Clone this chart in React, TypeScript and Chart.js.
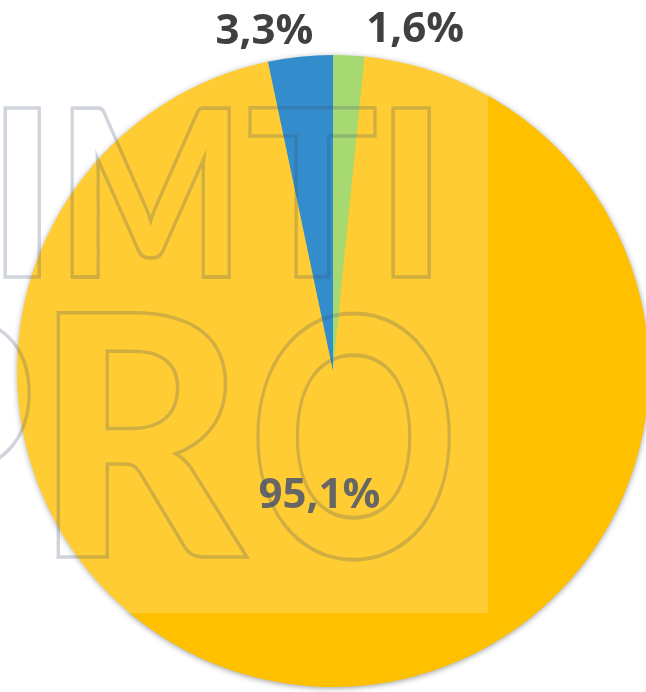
import React, { useEffect, useRef } from "react";
import { Chart, registerables } from "chart.js";

Chart.register(...registerables);

// ---- data ----
const categories = ["Категория 1", "Категория 2", "Категория 3"];
const shareValues = [1.6, 95.1, 3.3];
const sliceColors = ["#92D050", "#FFC000", "#0070C0"];
const labelTexts = shareValues.map((v) => v.toFixed(1).replace(".", ",") + "%");

// watermark letters (decoration only)
const watermarkRows = [
  { letters: ["I", "M", "T", "I"], lefts: [5, 72, 250, 393], rights: [40, 230, 375, 430], top: 107, bottom: 277 },
  { letters: ["P", "R", "O"], lefts: [-135, 58, 257], rights: [30, 247, 450], top: 313, bottom: 557 },
];

const CANVAS_W = 660;
const CANVAS_H = 692;

const pieShadowPlugin = {
  id: "pieShadow",
  beforeDatasetsDraw(chart: any) {
    const meta = chart.getDatasetMeta(0);
    const arc = meta.data[0];
    if (!arc) return;
    const { x, y, outerRadius } = arc.getProps(["x", "y", "outerRadius"], true);
    const ctx = chart.ctx;
    ctx.save();
    ctx.shadowColor = "rgba(0,0,0,0.45)";
    ctx.shadowBlur = 6;
    ctx.shadowOffsetX = 0;
    ctx.shadowOffsetY = 1;
    ctx.fillStyle = "#FFC000";
    ctx.beginPath();
    ctx.arc(x, y, outerRadius - 0.5, 0, Math.PI * 2);
    ctx.fill();
    ctx.restore();
  },
};

const labelPlugin = {
  id: "sliceLabels",
  afterDatasetsDraw(chart: any) {
    const meta = chart.getDatasetMeta(0);
    const ctx = chart.ctx;
    ctx.save();
    ctx.font = 'bold 42px "Open Sans"';
    ctx.fillStyle = "#404040";
    ctx.textBaseline = "alphabetic";
    meta.data.forEach((arc: any, i: number) => {
      const { x, y, startAngle, endAngle, outerRadius } = arc.getProps(
        ["x", "y", "startAngle", "endAngle", "outerRadius"],
        true
      );
      const mid = (startAngle + endAngle) / 2;
      const frac = (endAngle - startAngle) / (2 * Math.PI);
      const text = labelTexts[i];
      if (frac < 0.1) {
        const d = outerRadius + 28;
        const ax = x + Math.cos(mid) * d + 16;
        const ay = y + Math.sin(mid) * d;
        ctx.textAlign = Math.cos(mid) < 0 ? "right" : "left";
        ctx.fillText(text, ax, ay + 15);
      } else {
        const d = outerRadius * 0.386;
        ctx.textAlign = "center";
        ctx.fillText(text, x + Math.cos(mid) * d - 20, y + Math.sin(mid) * d + 15);
      }
    });
    ctx.restore();
  },
};

const watermarkPlugin = {
  id: "watermark",
  afterDraw(chart: any) {
    const ctx = chart.ctx;
    ctx.save();
    ctx.fillStyle = "rgba(255,255,255,0.2)";
    ctx.fillRect(0, 52, 488, 613 - 52);
    ctx.font = '900 200px Lato';
    ctx.textBaseline = "alphabetic";
    ctx.textAlign = "left";
    ctx.strokeStyle = "rgba(60,80,110,0.24)";
    watermarkRows.forEach((row) => {
      row.letters.forEach((ch, k) => {
        const m = ctx.measureText(ch);
        const inkW = m.actualBoundingBoxLeft + m.actualBoundingBoxRight;
        const inkH = m.actualBoundingBoxAscent;
        const sx = (row.rights[k] - row.lefts[k]) / inkW;
        const sy = (row.bottom - row.top) / inkH;
        ctx.save();
        ctx.translate(row.lefts[k], row.bottom);
        ctx.scale(sx, sy);
        ctx.lineWidth = 3.5 / Math.sqrt(sx * sy);
        ctx.strokeText(ch, m.actualBoundingBoxLeft, 0);
        ctx.restore();
      });
    });
    ctx.restore();
  },
};

export default function App() {
  const canvasRef = useRef<HTMLCanvasElement | null>(null);

  useEffect(() => {
    if (!canvasRef.current) return;
    const chart = new Chart(canvasRef.current, {
      type: "pie",
      data: {
        labels: categories,
        datasets: [
          {
            data: shareValues,
            backgroundColor: sliceColors,
            borderWidth: 0,
            hoverOffset: 0,
          },
        ],
      },
      options: {
        responsive: false,
        animation: false,
        layout: { padding: { left: 17, right: 11, top: 55, bottom: 5 } },
        plugins: {
          legend: { display: false },
          tooltip: { enabled: false },
        },
      },
      plugins: [pieShadowPlugin, labelPlugin, watermarkPlugin],
    });
    return () => chart.destroy();
  }, []);

  return (
    <div
      style={{
        position: "fixed",
        left: 0,
        top: 0,
        width: 646,
        height: 692,
        overflow: "hidden",
        background: "#ffffff",
      }}
    >
      <canvas
        ref={canvasRef}
        width={CANVAS_W}
        height={CANVAS_H}
        style={{ display: "block", width: CANVAS_W, height: CANVAS_H }}
      />
    </div>
  );
}
